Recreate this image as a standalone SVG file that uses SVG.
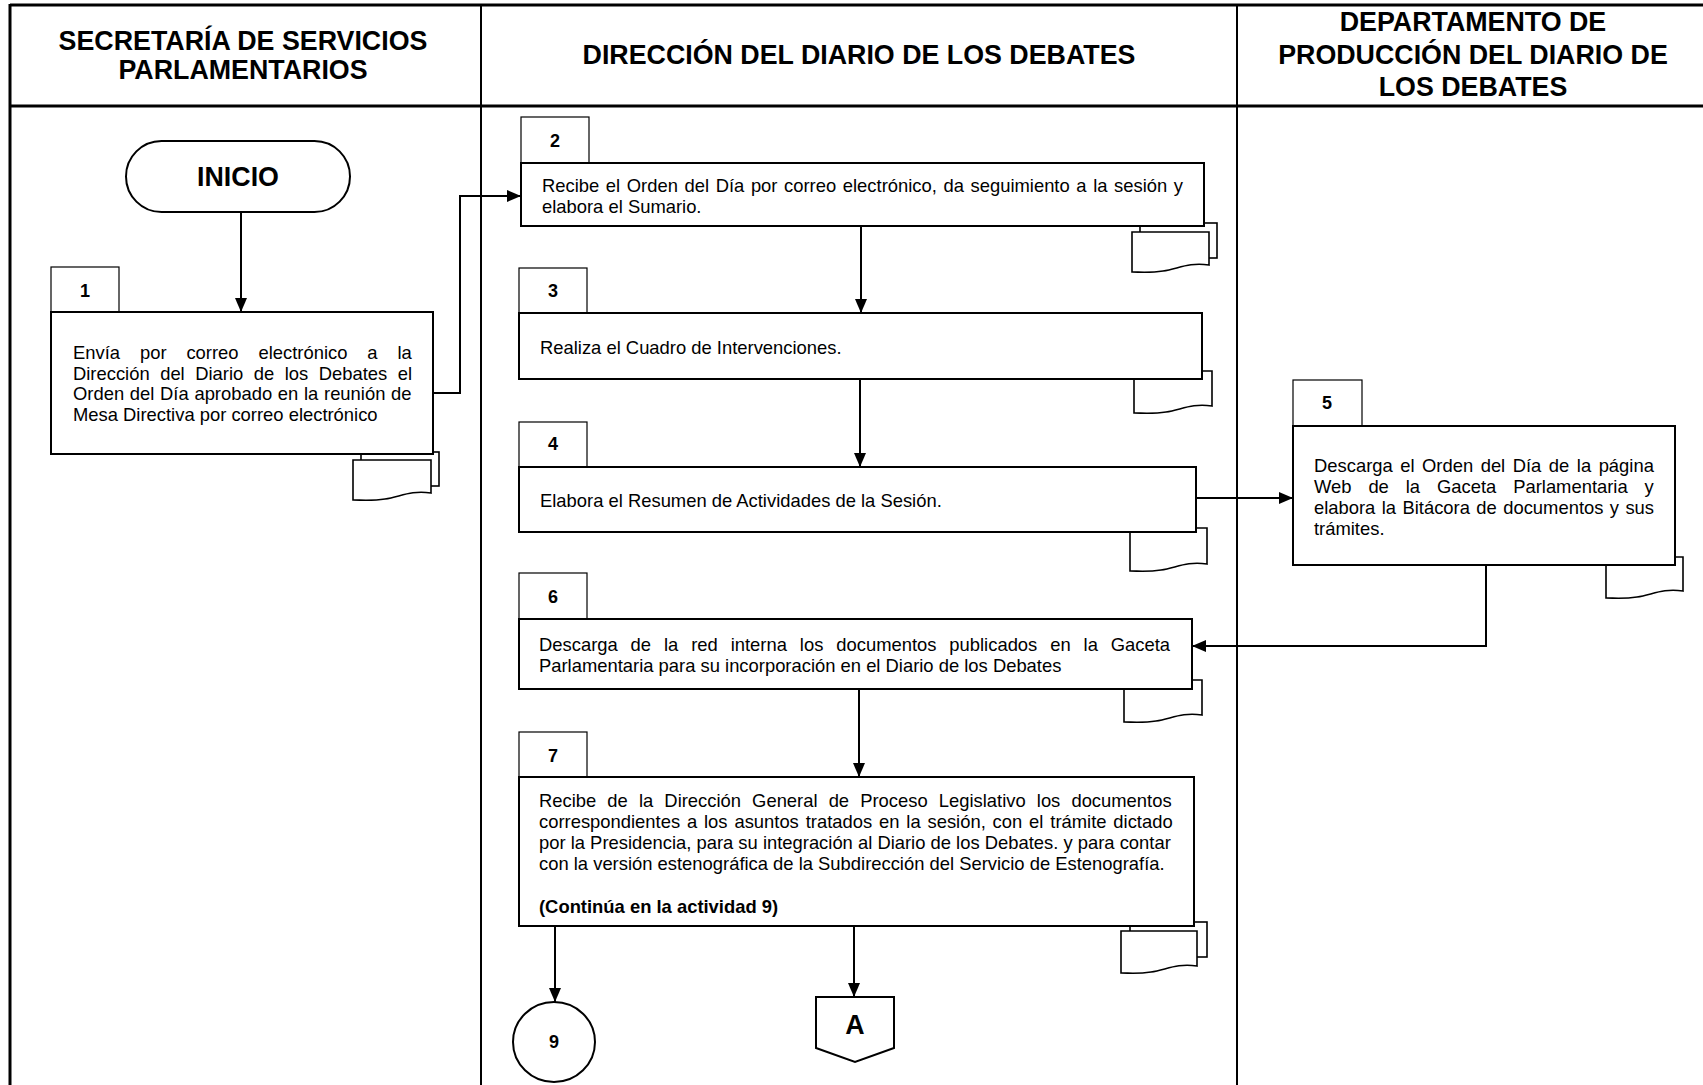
<svg xmlns="http://www.w3.org/2000/svg" width="1703" height="1085" viewBox="0 0 1703 1085">
<style>
.lane{stroke:#000;fill:none}
.box{fill:#fff;stroke:#000;stroke-width:2}
.tab{fill:#fff;stroke:#000;stroke-width:1.2}
.doc{fill:#fff;stroke:#000;stroke-width:1.6}
.con{fill:none;stroke:#000;stroke-width:2}
.hd{font-family:"Liberation Sans",Arial,sans-serif;font-weight:bold;font-size:26.8px;text-anchor:middle}
.t{font-family:"Liberation Sans",Arial,sans-serif;font-size:18.4px}
.n{font-family:"Liberation Sans",Arial,sans-serif;font-size:18px;font-weight:bold;text-anchor:middle}
.b{font-weight:bold}
</style>
<defs>
<marker id="ah" viewBox="0 0 14 12" refX="14" refY="6" markerWidth="14" markerHeight="12" markerUnits="userSpaceOnUse" orient="auto">
<path d="M0,0 L14,6 L0,12 z" fill="#000"/>
</marker>
</defs>
<rect width="1703" height="1085" fill="#fff"/>
<g id="lanes">
<line class="lane" x1="10" y1="5" x2="1703" y2="5" stroke-width="3"/>
<line class="lane" x1="10" y1="106" x2="1703" y2="106" stroke-width="3"/>
<line class="lane" x1="10" y1="4" x2="10" y2="1085" stroke-width="3"/>
<line class="lane" x1="481" y1="5" x2="481" y2="1085" stroke-width="2"/>
<line class="lane" x1="1237" y1="5" x2="1237" y2="1085" stroke-width="2"/>
<text class="hd" x="243" y="50">SECRETARÍA DE SERVICIOS</text>
<text class="hd" x="243" y="79">PARLAMENTARIOS</text>
<text class="hd" x="859" y="64">DIRECCIÓN DEL DIARIO DE LOS DEBATES</text>
<text class="hd" x="1473" y="31">DEPARTAMENTO DE</text>
<text class="hd" x="1473" y="63.5">PRODUCCIÓN DEL DIARIO DE</text>
<text class="hd" x="1473" y="95.5">LOS DEBATES</text>
</g>
<g id="connectors">
<path class="con" d="M241,212 V312" marker-end="url(#ah)"/>
<path class="con" d="M433,393 H460 V196 H521" marker-end="url(#ah)"/>
<path class="con" d="M861,226 V313" marker-end="url(#ah)"/>
<path class="con" d="M860,379 V467" marker-end="url(#ah)"/>
<path class="con" d="M1196,498 H1293" marker-end="url(#ah)"/>
<path class="con" d="M1486,565 V646 H1192" marker-end="url(#ah)"/>
<path class="con" d="M859,689 V777" marker-end="url(#ah)"/>
<path class="con" d="M555,926 V1002" marker-end="url(#ah)"/>
<path class="con" d="M854,926 V997" marker-end="url(#ah)"/>
</g>
<g id="inicio">
<rect x="126" y="141" width="224" height="71" rx="35.5" class="box"/>
<text class="hd" x="238" y="186">INICIO</text>
</g>
<g id="n1">
<rect class="doc" x="361" y="452" width="78" height="34"/>
<path class="doc" d="M353,460 H431 V493 C410,490 400,497 385,499 C372,501 362,500 353,500 Z"/>
<rect class="tab" x="51" y="267" width="68" height="45"/>
<text class="n" x="85" y="297">1</text>
<rect class="box" x="51" y="312" width="382" height="142"/>
<text class="t" x="73" y="359" word-spacing="14.8">Envía por correo electrónico a la</text>
<text class="t" x="73" y="379.5" word-spacing="5.4">Dirección del Diario de los Debates el</text>
<text class="t" x="73" y="400" word-spacing="0.6">Orden del Día aprobado en la reunión de</text>
<text class="t" x="73" y="420.5">Mesa Directiva por correo electrónico</text>
</g>
<g id="n2">
<rect class="doc" x="1140" y="223" width="77" height="35"/>
<path class="doc" d="M1132,232 H1209 V265 C1188,262 1178,269 1163,271 C1150,273 1140,272 1132,272 Z"/>
<rect class="tab" x="521" y="117" width="68" height="46"/>
<text class="n" x="555" y="147">2</text>
<rect class="box" x="521" y="163" width="683" height="63"/>
<text class="t" x="542" y="192" word-spacing="1.5">Recibe el Orden del Día por correo electrónico, da seguimiento a la sesión y</text>
<text class="t" x="542" y="213">elabora el Sumario.</text>
</g>
<g id="n3">
<path class="doc" d="M1134,371 H1212 V406 C1191,403 1181,410 1166,412 C1153,414 1143,413 1134,413 Z"/>
<rect class="tab" x="519" y="268" width="68" height="45"/>
<text class="n" x="553" y="297">3</text>
<rect class="box" x="519" y="313" width="683" height="66"/>
<text class="t" x="540" y="354">Realiza el Cuadro de Intervenciones.</text>
</g>
<g id="n4">
<path class="doc" d="M1130,528 H1207 V564 C1186,561 1176,568 1161,570 C1148,572 1139,571 1130,571 Z"/>
<rect class="tab" x="519" y="422" width="68" height="45"/>
<text class="n" x="553" y="450">4</text>
<rect class="box" x="519" y="467" width="677" height="65"/>
<text class="t" x="540" y="507">Elabora el Resumen de Actividades de la Sesión.</text>
</g>
<g id="n5">
<path class="doc" d="M1606,557 H1683 V591 C1662,588 1652,595 1637,597 C1624,599 1615,598 1606,598 Z"/>
<rect class="tab" x="1293" y="380" width="69" height="46"/>
<text class="n" x="1327" y="409">5</text>
<rect class="box" x="1293" y="426" width="382" height="139"/>
<text class="t" x="1314" y="472" word-spacing="2.4">Descarga el Orden del Día de la página</text>
<text class="t" x="1314" y="492.5" word-spacing="11.8">Web de la Gaceta Parlamentaria y</text>
<text class="t" x="1314" y="513.5" word-spacing="1.3">elabora la Bitácora de documentos y sus</text>
<text class="t" x="1314" y="534.5">trámites.</text>
</g>
<g id="n6">
<path class="doc" d="M1124,680 H1202 V715 C1181,712 1171,719 1156,721 C1143,723 1133,722 1124,722 Z"/>
<rect class="tab" x="519" y="573" width="68" height="46"/>
<text class="n" x="553" y="603">6</text>
<rect class="box" x="519" y="619" width="673" height="70"/>
<text class="t" x="539" y="651" word-spacing="7.8">Descarga de la red interna los documentos publicados en la Gaceta</text>
<text class="t" x="539" y="672">Parlamentaria para su incorporación en el Diario de los Debates</text>
</g>
<g id="n7">
<rect class="doc" x="1130" y="922" width="77" height="35"/>
<path class="doc" d="M1121,931 H1197 V966 C1176,963 1166,970 1151,972 C1138,974 1130,973 1121,973 Z"/>
<rect class="tab" x="519" y="732" width="68" height="45"/>
<text class="n" x="553" y="762">7</text>
<rect class="box" x="519" y="777" width="675" height="149"/>
<text class="t" x="539" y="806.5" word-spacing="6">Recibe de la Dirección General de Proceso Legislativo los documentos</text>
<text class="t" x="539" y="827.5" word-spacing="1.75">correspondientes a los asuntos tratados en la sesión, con el trámite dictado</text>
<text class="t" x="539" y="849">por la Presidencia, para su integración al Diario de los Debates. y para contar</text>
<text class="t" x="539" y="870">con la versión estenográfica de la Subdirección del Servicio de Estenografía.</text>
<text class="t b" x="539" y="912.5">(Continúa en la actividad 9)</text>
</g>
<g id="c9">
<ellipse class="box" cx="554" cy="1042" rx="41" ry="40"/>
<text class="n" x="554" y="1048">9</text>
</g>
<g id="offA">
<path class="box" d="M816,997 H894 V1048 L855,1062 L816,1048 Z"/>
<text class="hd" x="855" y="1034">A</text>
</g>
</svg>
